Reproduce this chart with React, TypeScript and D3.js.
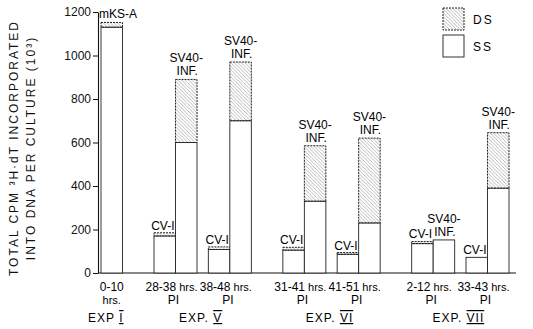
import React, { useRef, useEffect } from 'react';
import * as d3 from 'd3';

// experiment groups and the culture periods under each
const expNumerals = ['I', 'V', 'VI', 'VII'];
const periods = ['0-10', '28-38', '38-48', '31-41', '41-51', '2-12', '33-43'];
const periodExp = [0, 1, 1, 2, 2, 3, 3];

// one entry per bar
const barPeriod = [0, 1, 1, 2, 2, 3, 3, 4, 4, 5, 5, 6, 6];
const barCell = ['mKS-A', 'CV-I', 'SV40-INF.', 'CV-I', 'SV40-INF.', 'CV-I', 'SV40-INF.', 'CV-I', 'SV40-INF.', 'CV-I', 'SV40-INF.', 'CV-I', 'SV40-INF.'];
const ssValues = [1130, 170, 600, 108, 700, 105, 330, 86, 230, 135, 152, 72, 390];
const dsValues = [22, 15, 290, 12, 270, 13, 255, 8, 390, 10, 0, 0, 255];

const yTicks = [0, 200, 400, 600, 800, 1000, 1200];

const W = 533, H = 329;
const FONT = '"Liberation Sans", Arial, sans-serif';
const expGap = 0.372; // extra slot spacing between experiments

function App() {
  const axisRef = useRef<SVGGElement>(null);

  const slot = periods.map((_, i) => i + periodExp[i] * expGap);
  const x = d3.scaleLinear().domain([0, slot[slot.length - 1]]).range([101, 487.5]);
  const y = d3.scaleLinear().domain([0, 1200]).range([273, 12]);
  const bw = 21.5;

  useEffect(() => {
    const g = d3.select(axisRef.current);
    g.selectAll('*').remove();
    g.call(d3.axisLeft(y).tickValues(yTicks).tickFormat(d3.format('d') as any).tickSize(5).tickSizeOuter(0).tickPadding(2) as any);
    g.select('.domain').attr('stroke', '#111').attr('stroke-width', 1.1);
    g.selectAll('.tick line').attr('stroke', '#111');
    g.selectAll('.tick text').attr('font-size', 12).attr('font-family', FONT).attr('fill', '#111');
  }, []);

  const bars = barPeriod.map((p, i) => {
    const left = barCell[i] === 'CV-I';
    const x0 = x(slot[p]) - (left ? bw : 0);
    return { x0, cell: barCell[i], ss: ssValues[i], ds: dsValues[i], period: p };
  });

  // experiment label centres from the bars in each group
  const expCenters = expNumerals.map((_, e) => {
    const bs = bars.filter(b => periodExp[b.period] === e);
    const lo = d3.min(bs, b => b.x0)!;
    const hi = d3.max(bs, b => b.x0 + bw)!;
    return (lo + hi) / 2 - (e === 0 ? 6 : 2);
  });

  return (
    <svg width={W} height={H} style={{ position: 'absolute', left: 0, top: 0, background: '#fff' }} fontFamily={FONT}>
      <defs>
        <pattern id="hatch" patternUnits="userSpaceOnUse" width="3.5" height="3.5">
          <path d="M0,0 L3.5,3.5 M-1,2.5 L1,4.5 M2.5,-1 L4.5,1" stroke="#8a8a8a" strokeWidth="0.6" />
        </pattern>
      </defs>

      {/* y axis */}
      <g ref={axisRef} transform="translate(98,0)" />
      <line x1={98} x2={516} y1={y(0)} y2={y(0)} stroke="#111" strokeWidth={1.1} />

      {/* axis title */}
      <g transform={`translate(18,${148}) rotate(-90)`} fontSize={12} letterSpacing={2} fill="#111">
        <text textAnchor="middle">TOTAL CPM ³H·dT INCORPORATED</text>
        <text textAnchor="middle" y={17}>INTO DNA PER CULTURE (10³)</text>
      </g>

      {/* bars */}
      {bars.map((b, i) => {
        const top = y(b.ss + b.ds);
        return (
          <g key={i}>
            <rect x={b.x0} y={y(b.ss)} width={bw} height={y(0) - y(b.ss)} fill="#fff" stroke="#222" strokeWidth={0.9} />
            {b.ds > 0 && (
              <rect x={b.x0} y={top} width={bw} height={y(b.ss) - top} fill="url(#hatch)" stroke="#222" strokeWidth={1} strokeDasharray="2 1" />
            )}
            {b.cell === 'CV-I' && (
              <text x={b.x0 + bw - 1} y={top - 3} textAnchor="end" fontSize={12}>CV-I</text>
            )}
            {b.cell === 'SV40-INF.' && (
              <text textAnchor="middle" fontSize={12}>
                <tspan x={b.x0 + bw / 2} y={top - 17}>SV40-</tspan>
                <tspan x={b.x0 + bw / 2 + 1} y={top - 4}>INF.</tspan>
              </text>
            )}
            {b.cell === 'mKS-A' && (
              <text x={b.x0 - 2} y={top - 4} fontSize={12}>mKS-A</text>
            )}
          </g>
        );
      })}

      {/* period labels */}
      {periods.map((p, i) => {
        const cx = x(slot[i]);
        if (i === 0) {
          const c = cx + bw / 2;
          return (
            <text key={p} textAnchor="middle" fontSize={12}>
              <tspan x={c} y={291}>{p}</tspan>
              <tspan x={c} y={304} fontSize={11}>hrs.</tspan>
            </text>
          );
        }
        return (
          <text key={p} textAnchor="middle" fontSize={12}>
            <tspan x={cx - 4} y={291}>{p}<tspan fontSize={11}> hrs.</tspan></tspan>
            <tspan x={cx - 2} y={304}>PI</tspan>
          </text>
        );
      })}

      {/* experiment labels */}
      {expNumerals.map((n, e) => (
        <text key={n} x={expCenters[e]} y={322} textAnchor="middle" fontSize={12} letterSpacing={1}>
          {e === 0 ? 'EXP ' : 'EXP. '}
          <tspan textDecoration="underline overline">{n}</tspan>
        </text>
      ))}

      {/* legend */}
      <rect x={443} y={8} width={21} height={22} fill="url(#hatch)" stroke="#222" strokeWidth={1} strokeDasharray="2 1" />
      <rect x={443} y={35} width={21} height={22} fill="#fff" stroke="#333" strokeWidth={1} />
      <text x={473} y={24} fontSize={12} letterSpacing={2}>DS</text>
      <text x={473} y={51} fontSize={12} letterSpacing={2}>SS</text>
    </svg>
  );
}

export default App;
